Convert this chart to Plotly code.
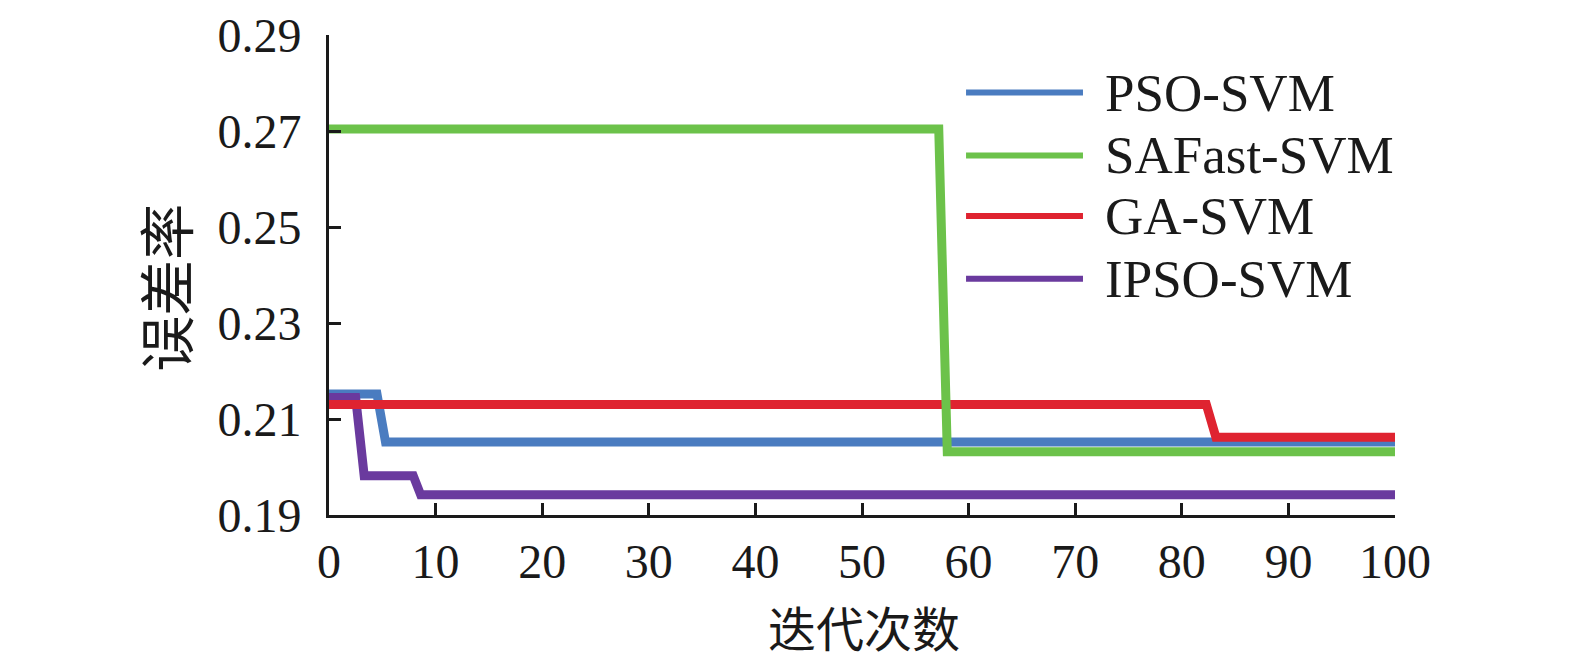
import plotly.graph_objects as go

# series names (legend order)
names = ["PSO-SVM", "SAFast-SVM", "GA-SVM", "IPSO-SVM"]
colors = ["#4a7cc0", "#6cc24a", "#df2330", "#6a3a9e"]

# breakpoints (iteration, error rate)
pso_x = [0, 4.5, 5.3, 100]
pso_y = [0.2152, 0.2152, 0.2052, 0.2052]

safast_x = [0, 57.2, 58.0, 100]
safast_y = [0.2704, 0.2704, 0.2032, 0.2032]

ga_x = [0, 82.3, 83.2, 100]
ga_y = [0.2130, 0.2130, 0.2062, 0.2062]

ipso_x = [0, 2.5, 3.3, 7.9, 8.6, 100]
ipso_y = [0.2145, 0.2145, 0.1982, 0.1982, 0.1942, 0.1942]

x_ticks = [0, 10, 20, 30, 40, 50, 60, 70, 80, 90, 100]
y_ticks = [0.19, 0.21, 0.23, 0.25, 0.27, 0.29]
y_labels = ["0.19", "0.21", "0.23", "0.25", "0.27", "0.29"]

series = {
    "PSO-SVM": (pso_x, pso_y),
    "SAFast-SVM": (safast_x, safast_y),
    "GA-SVM": (ga_x, ga_y),
    "IPSO-SVM": (ipso_x, ipso_y),
}
draw_order = ["PSO-SVM", "IPSO-SVM", "GA-SVM", "SAFast-SVM"]

fig = go.Figure()
for n in draw_order:
    xs, ys = series[n]
    fig.add_trace(go.Scatter(
        x=xs, y=ys, mode="lines", name=n, showlegend=False,
        line=dict(color=colors[names.index(n)], width=9),
    ))

serif = "Liberation Serif, Times New Roman, serif"
cjk = "Noto Sans CJK SC"

# manual legend
leg_y = [0.880, 0.749, 0.623, 0.492]
shapes = []
annotations = []
for i, n in enumerate(names):
    shapes.append(dict(type="line", xref="paper", yref="paper",
                       x0=0.5976, x1=0.7073, y0=leg_y[i], y1=leg_y[i],
                       line=dict(color=colors[i], width=6)))
    annotations.append(dict(xref="paper", yref="paper", x=0.726, y=leg_y[i],
                            text=n, showarrow=False, xanchor="left", yanchor="middle",
                            font=dict(family=serif, size=53, color="#1a1a1a")))

annotations.append(dict(xref="paper", yref="paper", x=0.502, y=-0.232,
                        text="迭代次数", showarrow=False, xanchor="center", yanchor="middle",
                        font=dict(family=cjk, size=48, color="#1a1a1a")))
annotations.append(dict(xref="paper", yref="paper", x=-0.155, y=0.473,
                        text="误差率", showarrow=False, xanchor="center", yanchor="middle",
                        textangle=-90,
                        font=dict(family=cjk, size=56, color="#1a1a1a")))

# page body has a default margin, so the figure is offset slightly
fig.update_layout(
    width=1567, height=656,
    margin=dict(l=321, r=180, t=27, b=149),
    plot_bgcolor="white", paper_bgcolor="white",
    shapes=shapes, annotations=annotations,
    showlegend=False,
)
fig.update_xaxes(
    range=[0, 100], tickvals=x_ticks, ticks="inside", ticklen=12, tickwidth=2.5,
    tickcolor="#1a1a1a", showline=True, linecolor="#1a1a1a", linewidth=3,
    showgrid=False, zeroline=False, ticklabelstandoff=2, automargin=False,
    tickfont=dict(family=serif, size=48, color="#1a1a1a"),
)
fig.update_yaxes(
    range=[0.19, 0.29], tickvals=y_ticks, ticktext=y_labels, ticks="inside", ticklen=12,
    tickwidth=2.5, tickcolor="#1a1a1a", showline=True, linecolor="#1a1a1a", linewidth=3,
    showgrid=False, zeroline=False, ticklabelstandoff=15, automargin=False,
    tickfont=dict(family=serif, size=48, color="#1a1a1a"),
)

fig.write_html("out.html")
